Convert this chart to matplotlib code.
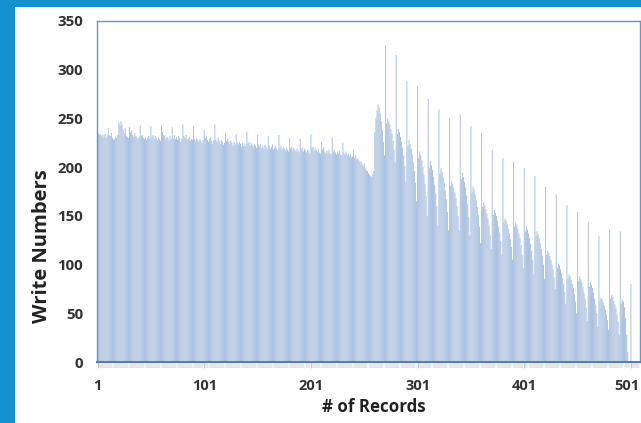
import numpy as np
import matplotlib
matplotlib.use("Agg")
import matplotlib.pyplot as plt
import matplotlib.transforms as mtransforms
from matplotlib.patches import Rectangle
from matplotlib.ticker import FixedLocator, NullFormatter

plt.rcParams['font.family'] = ['Open Sans', 'DejaVu Sans']

# ---- data ----
write_numbers = [
    # 1-10
    236, 235, 233, 234, 232, 233, 231, 234, 230, 232,
    # 11-20
    240, 233, 232, 235, 230, 228, 229, 231, 230, 233,
    # 21-30
    246, 243, 247, 244, 238, 235, 240, 232, 231, 230,
    # 31-40
    241, 236, 238, 233, 231, 235, 232, 230, 229, 231,
    # 41-50
    243, 232, 233, 230, 229, 231, 228, 230, 232, 229,
    # 51-60
    242, 231, 233, 229, 232, 230, 228, 231, 229, 227,
    # 61-70
    243, 236, 233, 232, 229, 231, 230, 228, 232, 229,
    # 71-80
    241, 230, 233, 229, 231, 228, 232, 230, 226, 229,
    # 81-90
    244, 232, 230, 233, 228, 229, 231, 227, 229, 228,
    # 91-100
    242, 229, 227, 230, 228, 226, 229, 227, 225, 228,
    # 101-110
    238, 230, 232, 228, 226, 229, 231, 227, 224, 228,
    # 111-120
    244, 228, 226, 230, 227, 224, 228, 226, 223, 225,
    # 121-130
    235, 227, 229, 226, 224, 227, 225, 222, 226, 223,
    # 131-140
    234, 225, 223, 226, 224, 221, 225, 222, 224, 221,
    # 141-150
    236, 224, 226, 222, 225, 223, 221, 224, 222, 220,
    # 151-160
    233, 223, 221, 224, 220, 222, 219, 223, 221, 218,
    # 161-170
    232, 222, 219, 221, 223, 218, 220, 222, 219, 217,
    # 171-180
    233, 220, 222, 218, 221, 219, 217, 220, 218, 216,
    # 181-190
    230, 219, 221, 217, 220, 218, 216, 219, 217, 215,
    # 191-200
    229, 218, 220, 216, 219, 217, 215, 218, 216, 214,
    # 201-210
    234, 219, 221, 217, 220, 218, 216, 219, 215, 214,
    # 211-220
    226, 218, 220, 216, 214, 217, 215, 218, 214, 213,
    # 221-230
    230, 216, 218, 215, 213, 216, 214, 217, 213, 212,
    # 231-240
    225, 215, 213, 216, 212, 214, 211, 213, 210, 211,
    # 241-250
    218, 210, 212, 208, 209, 207, 205, 206, 203, 201,
    # 251-260
    204, 199, 197, 196, 194, 192, 191, 190, 193, 196,
    # 261-270
    236, 250, 258, 264, 261, 255, 247, 238, 226, 212,
    # 271-280
    325, 245, 250, 247, 244, 239, 234, 227, 218, 205,
    # 281-290
    315, 234, 239, 236, 231, 226, 220, 212, 201, 185,
    # 291-300
    288, 222, 228, 224, 219, 213, 205, 196, 184, 165,
    # 301-310
    283, 209, 216, 212, 207, 200, 192, 183, 170, 150,
    # 311-320
    270, 199, 206, 202, 197, 190, 182, 173, 160, 140,
    # 321-330
    259, 193, 199, 195, 190, 184, 176, 167, 154, 135,
    # 331-340
    250, 181, 186, 183, 179, 174, 168, 160, 150, 135,
    # 341-350
    254, 188, 194, 190, 185, 179, 171, 162, 149, 130,
    # 351-360
    242, 174, 180, 177, 172, 166, 159, 151, 139, 122,
    # 361-370
    235, 159, 164, 161, 157, 152, 147, 140, 130, 116,
    # 371-380
    218, 151, 156, 153, 150, 145, 139, 133, 124, 110,
    # 381-390
    209, 143, 147, 145, 141, 137, 132, 126, 118, 105,
    # 391-400
    205, 139, 144, 141, 137, 132, 127, 120, 110, 96,
    # 401-410
    199, 134, 139, 136, 132, 127, 121, 114, 105, 90,
    # 411-420
    191, 129, 134, 131, 127, 122, 116, 109, 100, 85,
    # 421-430
    180, 110, 114, 112, 109, 105, 100, 95, 87, 75,
    # 431-440
    172, 97, 101, 99, 95, 91, 86, 80, 72, 60,
    # 441-450
    161, 86, 90, 88, 84, 80, 76, 70, 62, 50,
    # 451-460
    154, 83, 88, 85, 82, 77, 71, 65, 56, 42,
    # 461-470
    144, 77, 82, 79, 76, 71, 65, 59, 50, 36,
    # 471-480
    129, 63, 66, 64, 61, 58, 54, 49, 43, 33,
    # 481-490
    136, 65, 69, 67, 63, 59, 55, 49, 41, 28,
    # 491-500
    134, 60, 64, 62, 56, 45, 28, 10, 0, 0,
    # 501-509
    80, 0, 0, 0, 0, 0, 0, 0, 0,
]
records = list(range(1, len(write_numbers) + 1))
x_tick_labels = ['1', '101', '201', '301', '401', '501']
y_ticks = [0, 50, 100, 150, 200, 250, 300, 350]

W, H = 641, 423
fig = plt.figure(figsize=(W / 100, H / 100), dpi=100)
fig.patch.set_facecolor('#1590CF')
# white panel inside the blue frame
fig.patches.append(Rectangle((15 / W, 0), 1 - 15 / W, (H - 7) / H,
                             transform=fig.transFigure, facecolor='white',
                             edgecolor='none', zorder=-5))

ax = fig.add_axes([97 / W, (H - 362) / H, (640 - 97) / W, (362 - 21) / H])
ax.set_zorder(2)
ax.set_facecolor('white')
bars = ax.bar(records, write_numbers, width=0.9, color='#A8C0DF',
              edgecolor='none', zorder=2)
for b in bars:
    b.set_snap(False)

ax.set_xlim(0.5, len(records) + 0.5)
ax.set_ylim(0, 350)
ax.set_yticks(y_ticks)
ax.set_yticklabels([str(v) for v in y_ticks])
ax.set_xticks([int(t) for t in x_tick_labels])
ax.set_xticklabels(x_tick_labels)
ax.xaxis.set_minor_locator(FixedLocator(records))
ax.xaxis.set_minor_formatter(NullFormatter())

label_color = '#333333'
ax.tick_params(axis='y', length=0, pad=10, labelsize=10.8, labelcolor=label_color)
ax.tick_params(axis='x', which='major', length=4, width=0.5, color='#B5B5B5',
               pad=8, labelsize=10.5, labelcolor=label_color)
ax.tick_params(axis='x', which='minor', length=4, width=0.3, color='#C0C0C0')
for lab in ax.get_xticklabels() + ax.get_yticklabels():
    lab.set_fontweight('bold')
# keep the last category label inside the picture, as in the reference
last_lab = ax.get_xticklabels()[-1]
last_lab.set_transform(last_lab.get_transform() +
                       mtransforms.ScaledTranslation(-4 / 100, 0, fig.dpi_scale_trans))

for side in ['top', 'right', 'left']:
    ax.spines[side].set_color('#6F93C6')
    ax.spines[side].set_linewidth(1.0)
ax.spines['bottom'].set_color('#5A7DB0')
ax.spines['bottom'].set_linewidth(1.5)
ax.spines['bottom'].set_zorder(3)

ax.set_ylabel('Write Numbers', fontsize=14.5, fontweight='bold', color='#222222')
ax.yaxis.label.set_verticalalignment('center')
ax.yaxis.set_label_coords((42 - 97) / 543, (362 - 246) / 341)
ax.set_xlabel('# of Records', fontsize=12.2, fontweight='bold', color='#222222')
ax.xaxis.label.set_verticalalignment('center')
ax.xaxis.set_label_coords((374 - 97) / 543, (362 - 407) / 341)

fig.savefig('out.png', dpi=100, facecolor=fig.get_facecolor())
